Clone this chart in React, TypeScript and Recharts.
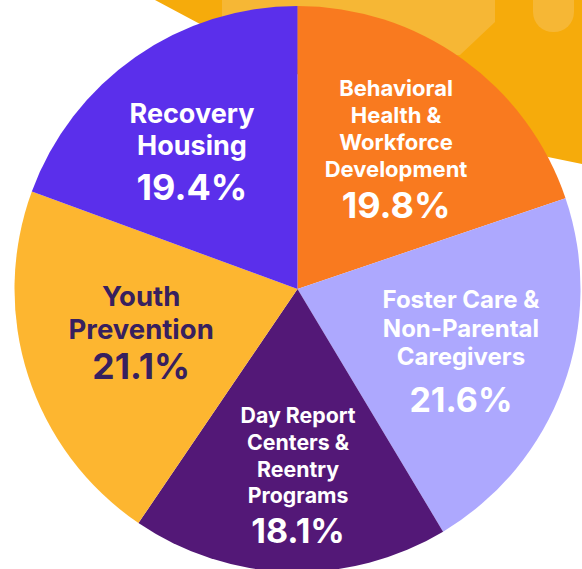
import { PieChart, Pie, Cell } from "recharts";

const categories = [
  "Behavioral Health & Workforce Development",
  "Foster Care & Non-Parental Caregivers",
  "Day Report Centers & Reentry Programs",
  "Youth Prevention",
  "Recovery Housing",
];

// how each category name is wrapped inside its slice
const categoryLines = [
  ["Behavioral", "Health &", "Workforce", "Development"],
  ["Foster Care &", "Non-Parental", "Caregivers"],
  ["Day Report", "Centers &", "Reentry", "Programs"],
  ["Youth", "Prevention"],
  ["Recovery", "Housing"],
];

const shares = [19.8, 21.6, 18.1, 21.1, 19.4];

const colors = ["#F97A1F", "#ADA8FE", "#531877", "#FDB630", "#5B2FEB"];
const textColors = ["#FFFFFF", "#FFFFFF", "#FFFFFF", "#37205F", "#FFFFFF"];

// label layout per slice: radius factor, angle nudge, title size, line height, pct size, gap
const labelStyle = [
  { r: 0.605, da: 0.5, f: 22, lh: 27, p: 36, gap: 41 },
  { r: 0.618, da: -0.7, f: 24, lh: 28.5, p: 34, gap: 47 },
  { r: 0.659, da: 1.8, f: 21.3, lh: 26.7, p: 34, gap: 40 },
  { r: 0.573, da: -2.4, f: 27.5, lh: 33, p: 35.5, gap: 40 },
  { r: 0.611, da: 2.7, f: 27, lh: 32, p: 36, gap: 45 },
];

const data = categories.map((name, i) => ({
  name,
  value: shares[i],
  lines: categoryLines[i],
}));

const RADIAN = Math.PI / 180;

function SliceLabel(props: any) {
  const { cx, cy, midAngle, outerRadius, index, payload } = props;
  const s = labelStyle[index];
  const a = (midAngle + s.da) * RADIAN;
  const x = cx + outerRadius * s.r * Math.cos(-a);
  const y = cy + outerRadius * s.r * Math.sin(-a);
  const lines: string[] = payload.lines ?? data[index].lines;
  const cap = 0.73 * s.f;
  const total = (lines.length - 1) * s.lh + s.gap + cap;
  const first = y - total / 2 + cap;
  return (
    <text
      x={x}
      y={first}
      textAnchor="middle"
      fill={textColors[index]}
      fontFamily="Inter, 'Noto Sans', sans-serif"
      fontWeight={700}
    >
      {lines.map((ln, i) => (
        <tspan key={i} x={x} y={first + i * s.lh} fontSize={s.f}>
          {ln}
        </tspan>
      ))}
      <tspan
        x={x}
        y={first + (lines.length - 1) * s.lh + s.gap}
        fontSize={s.p}
      >
        {shares[index].toFixed(1)}%
      </tspan>
    </text>
  );
}

export default function App() {
  return (
    <div
      style={{
        position: "fixed",
        left: 0,
        top: 0,
        width: 582,
        height: 569,
        overflow: "hidden",
        background: "#FFFFFF",
      }}
    >
      {/* decorative shape behind the pie */}
      <svg
        width={582}
        height={569}
        style={{ position: "absolute", left: 0, top: 0 }}
      >
        <polygon
          points="155,0 582,0 582,164 548,157 450,120 250,60 215,32"
          fill="#F6AB0B"
        />
        <polygon
          points="222,0 495,0 495,22 460,55 300,60 222,40"
          fill="#F6B735"
        />
        <rect x={533} y={-20} width={41} height={52} rx={20} fill="#F6B735" />
      </svg>
      <div style={{ position: "absolute", left: 0, top: 0 }}>
        <PieChart
          width={582}
          height={569}
          margin={{ top: 0, right: 0, bottom: 0, left: 0 }}
        >
          <Pie
            data={data}
            dataKey="value"
            nameKey="name"
            cx={297.5}
            cy={289}
            outerRadius={283}
            startAngle={90}
            endAngle={-270}
            stroke="none"
            labelLine={false}
            label={SliceLabel}
            isAnimationActive={false}
          >
            {data.map((d, i) => (
              <Cell key={d.name} fill={colors[i]} />
            ))}
          </Pie>
        </PieChart>
      </div>
    </div>
  );
}
